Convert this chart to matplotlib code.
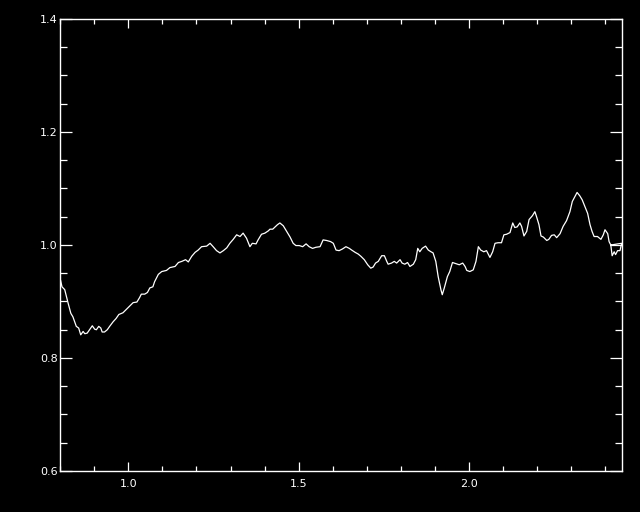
import matplotlib
matplotlib.use("Agg")
from matplotlib import pyplot as plt
from matplotlib.ticker import MultipleLocator

# wavelength-like x values and normalised flux
wave = [0.801, 0.805, 0.813, 0.818, 0.823, 0.831, 0.837, 0.847, 0.854, 0.860,
        0.867, 0.872, 0.879, 0.886, 0.894, 0.901, 0.906, 0.913, 0.919, 0.923,
        0.930, 0.938, 0.945, 0.955, 0.964, 0.972, 0.984, 0.994, 1.004, 1.014,
        1.025, 1.033, 1.038, 1.048, 1.056, 1.063, 1.072, 1.077, 1.088, 1.098,
        1.112, 1.122, 1.137, 1.147, 1.157, 1.168, 1.176, 1.186, 1.196, 1.205,
        1.215, 1.230, 1.240, 1.249, 1.259, 1.269, 1.279, 1.289, 1.298, 1.308,
        1.318, 1.328, 1.337, 1.347, 1.357, 1.364, 1.375, 1.381, 1.391, 1.401,
        1.411, 1.416, 1.424, 1.431, 1.438, 1.445, 1.455, 1.465, 1.475, 1.484,
        1.492, 1.502, 1.512, 1.522, 1.531, 1.541, 1.551, 1.563, 1.572, 1.582,
        1.594, 1.602, 1.610, 1.619, 1.629, 1.639, 1.649, 1.656, 1.666, 1.675,
        1.683, 1.693, 1.703, 1.712, 1.719, 1.726, 1.734, 1.744, 1.752, 1.759,
        1.763, 1.773, 1.781, 1.788, 1.798, 1.804, 1.812, 1.820, 1.827, 1.837,
        1.844, 1.850, 1.856, 1.863, 1.873, 1.881, 1.889, 1.895, 1.903, 1.910,
        1.918, 1.922, 1.928, 1.937, 1.944, 1.952, 1.962, 1.972, 1.982, 1.989,
        1.994, 2.003, 2.013, 2.021, 2.028, 2.035, 2.044, 2.052, 2.062, 2.070,
        2.077, 2.086, 2.096, 2.103, 2.111, 2.121, 2.129, 2.135, 2.142, 2.150,
        2.155, 2.162, 2.170, 2.177, 2.187, 2.194, 2.199, 2.206, 2.212, 2.219,
        2.229, 2.235, 2.243, 2.251, 2.258, 2.268, 2.277, 2.287, 2.297, 2.304,
        2.312, 2.318, 2.326, 2.333, 2.341, 2.349, 2.356, 2.362, 2.368, 2.378,
        2.388, 2.395, 2.400, 2.408, 2.412, 2.417, 2.421, 2.427, 2.431, 2.437,
        2.444, 2.449, 2.417]
flux = [0.937, 0.926, 0.921, 0.909, 0.897, 0.879, 0.873, 0.856, 0.853, 0.841,
        0.847, 0.843, 0.844, 0.850, 0.857, 0.851, 0.850, 0.856, 0.853, 0.846,
        0.846, 0.850, 0.856, 0.864, 0.870, 0.877, 0.880, 0.886, 0.892, 0.898,
        0.899, 0.907, 0.913, 0.913, 0.916, 0.924, 0.926, 0.935, 0.948, 0.953,
        0.955, 0.960, 0.962, 0.969, 0.971, 0.974, 0.970, 0.980, 0.987, 0.991,
        0.997, 0.998, 1.003, 0.997, 0.990, 0.986, 0.990, 0.995, 1.003, 1.010,
        1.018, 1.015, 1.021, 1.012, 0.997, 1.003, 1.002, 1.009, 1.019, 1.021,
        1.025, 1.028, 1.028, 1.032, 1.036, 1.039, 1.034, 1.024, 1.014, 1.003,
        0.999, 0.999, 0.997, 1.002, 0.997, 0.994, 0.996, 0.997, 1.009, 1.008,
        1.006, 1.003, 0.991, 0.990, 0.993, 0.997, 0.994, 0.991, 0.987, 0.984,
        0.980, 0.974, 0.965, 0.959, 0.961, 0.968, 0.971, 0.981, 0.981, 0.971,
        0.966, 0.968, 0.971, 0.968, 0.974, 0.968, 0.966, 0.969, 0.962, 0.966,
        0.974, 0.994, 0.988, 0.994, 0.998, 0.991, 0.988, 0.986, 0.971, 0.944,
        0.921, 0.912, 0.924, 0.944, 0.953, 0.969, 0.967, 0.965, 0.968, 0.962,
        0.955, 0.953, 0.956, 0.971, 0.997, 0.991, 0.988, 0.990, 0.978, 0.988,
        1.003, 1.004, 1.004, 1.018, 1.019, 1.022, 1.039, 1.031, 1.032, 1.039,
        1.033, 1.016, 1.024, 1.045, 1.052, 1.059, 1.050, 1.036, 1.016, 1.014,
        1.008, 1.010, 1.017, 1.018, 1.013, 1.020, 1.033, 1.043, 1.059, 1.077,
        1.086, 1.093, 1.087, 1.080, 1.068, 1.056, 1.036, 1.024, 1.015, 1.015,
        1.010, 1.018, 1.027, 1.020, 1.006, 1.000, 0.981, 0.988, 0.983, 0.990,
        0.990, 1.003, 1.000]

plt.rcParams['font.family'] = ['DejaVu Sans']

fig = plt.figure(figsize=(6.4, 5.12), dpi=100, facecolor='black')
ax = fig.add_axes([0.0942, 0.0801, 0.8777, 0.8828], facecolor='black')

ax.plot(wave, flux, color='white', linewidth=0.9)

ax.set_xlim(0.8, 2.45)
ax.set_ylim(0.6, 1.4)

ax.xaxis.set_major_locator(MultipleLocator(0.5))
ax.xaxis.set_minor_locator(MultipleLocator(0.1))
ax.yaxis.set_major_locator(MultipleLocator(0.2))
ax.yaxis.set_minor_locator(MultipleLocator(0.05))
ax.xaxis.set_major_formatter(plt.FormatStrFormatter('%.1f'))
ax.yaxis.set_major_formatter(plt.FormatStrFormatter('%.1f'))

for s in ax.spines.values():
    s.set_color('white')
    s.set_linewidth(1.0)

ax.tick_params(which='both', direction='in', colors='white',
               top=True, right=True, width=0.9, labelsize=8)
ax.tick_params(axis='x', which='major', length=6.5, pad=6)
ax.tick_params(axis='x', which='minor', length=3.6)
ax.tick_params(axis='y', which='major', length=8.5, pad=2)
ax.tick_params(axis='y', which='minor', length=4.8)

plt.savefig("out.png", facecolor='black')
